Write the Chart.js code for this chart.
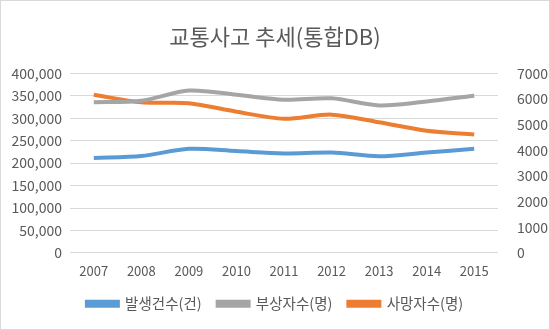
<!DOCTYPE html>
<html>
<head>
<meta charset="utf-8">
<script src="https://cdn.jsdelivr.net/npm/chart.js@4/dist/chart.umd.min.js"></script>
<style>
  html, body { margin: 0; padding: 0; background: #fff; }
  #wrap { position: relative; width: 548px; height: 328px; border: 1px solid #d9d9d9; }
</style>
</head>
<body>
<div id="wrap"><canvas id="trend"></canvas></div>
<script>
var years = ["2007", "2008", "2009", "2010", "2011", "2012", "2013", "2014", "2015"];
var accidents = [211662, 215822, 231990, 226878, 221711, 223656, 215354, 223552, 232035];
var injured = [335906, 338962, 361875, 352458, 341391, 344565, 328711, 337497, 350400];
var deaths = [6166, 5870, 5838, 5505, 5229, 5392, 5092, 4762, 4621];

var font = "'Noto Sans CJK KR', 'Noto Sans', sans-serif";
Chart.defaults.font.family = font;
Chart.defaults.color = "#595959";

function line(label, data, color, axis) {
    return {
        label: label,
        data: data,
        borderColor: color,
        backgroundColor: color,
        borderWidth: 4,
        pointRadius: 0,
        tension: 0.3,
        yAxisID: axis
    };
}

var ctx = document.getElementById("trend").getContext("2d");
new Chart(ctx, {
    type: 'line',
    data: {
        labels: years,
        datasets: [
            line("발생건수(건)", accidents, "#5B9BD5", "y"),
            line("부상자수(명)", injured, "#A5A5A5", "y"),
            line("사망자수(명)", deaths, "#ED7D31", "y1")
        ]
    },
    options: {
        responsive: true,
        maintainAspectRatio: false,
        animation: false,
        layout: { padding: { left: 0, right: 0, top: 10, bottom: 8 } },
        plugins: {
            title: {
                display: true,
                text: "교통사고 추세(통합DB)",
                font: { size: 22, weight: 'normal' },
                color: "#595959",
                padding: { top: 12, bottom: 24 }
            },
            legend: {
                position: 'bottom',
                labels: {
                    boxWidth: 31,
                    boxHeight: 4,
                    padding: 16,
                    font: { size: 14.5 },
                    color: "#595959"
                }
            },
            tooltip: { enabled: false }
        },
        scales: {
            x: {
                offset: true,
                grid: { display: false },
                border: { display: false },
                ticks: { font: { size: 13 }, padding: 2 }
            },
            y: {
                position: 'left',
                min: 0,
                max: 400000,
                ticks: {
                    stepSize: 50000,
                    font: { size: 14 },
                    padding: 8,
                    callback: function (v) { return v.toLocaleString('en-US'); }
                },
                grid: { color: "#D9D9D9", drawTicks: false },
                border: { display: false },
                afterFit: function (s) { s.width = 69; }
            },
            y1: {
                position: 'right',
                min: 0,
                max: 7000,
                ticks: {
                    stepSize: 1000,
                    font: { size: 14 },
                    padding: 11,
                    callback: function (v) { return String(v); }
                },
                grid: { display: false },
                border: { display: false },
                afterFit: function (s) { s.width = 51; }
            }
        }
    }
});
</script>
</body>
</html>
